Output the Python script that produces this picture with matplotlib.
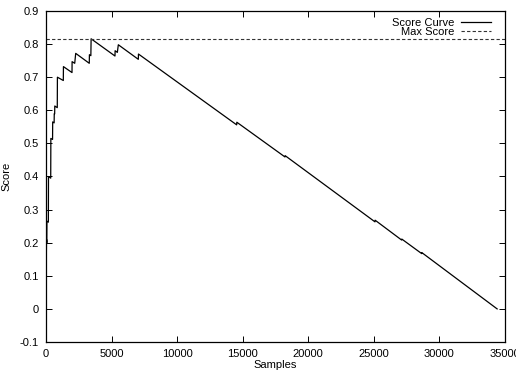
import matplotlib
matplotlib.use("Agg")
import matplotlib.pyplot as plt
from matplotlib.ticker import FixedLocator, FixedFormatter

plt.rcParams['font.family'] = ['Liberation Sans', 'DejaVu Sans']

# Vertices of the score curve (samples, score)
samples = [0, 40, 60, 70, 180, 190, 360, 370, 500, 510, 620, 630, 660, 670,
           860, 870, 1320, 1330, 1983, 1990, 2190, 2265, 3300, 3310, 3420, 3440,
           5260, 5270, 5440, 5515, 7040, 7050, 14540, 14550, 18224, 18234,
           25086, 25096, 27120, 27130, 28650, 28660, 34400]
scores = [0.08, 0.21, 0.20, 0.265, 0.262, 0.40, 0.395, 0.515, 0.512, 0.565, 0.562, 0.59, 0.589, 0.613,
          0.608, 0.70, 0.690, 0.732, 0.714, 0.747, 0.742, 0.772, 0.742, 0.768, 0.765, 0.816,
          0.764, 0.780, 0.775, 0.798, 0.754, 0.770, 0.556, 0.564, 0.459, 0.463,
          0.263, 0.268, 0.208, 0.211, 0.167, 0.170, 0.0]

x_ticks = [0, 5000, 10000, 15000, 20000, 25000, 30000, 35000]
x_tick_labels = ["0", "5000", "10000", "15000", "20000", "25000", "30000", "35000"]
y_ticks = [-0.1, 0, 0.1, 0.2, 0.3, 0.4, 0.5, 0.6, 0.7, 0.8, 0.9]
y_tick_labels = ["-0.1", "0", "0.1", "0.2", "0.3", "0.4", "0.5", "0.6", "0.7", "0.8", "0.9"]

max_score = max(scores)

fig = plt.figure(figsize=(5.16, 3.75), dpi=100)
ax = fig.add_axes([46/516, 1-342/375, (505-46)/516, (342-11)/375])

ax.plot(samples, scores, color='black', lw=0.9, label='Score Curve')
ax.axhline(max_score, color='#333333', lw=0.8, linestyle=(0, (3, 2)), label='Max Score')

ax.set_xlim(0, 35000)
ax.set_ylim(-0.1, 0.9)
ax.xaxis.set_major_locator(FixedLocator(x_ticks))
ax.xaxis.set_major_formatter(FixedFormatter(x_tick_labels))
ax.yaxis.set_major_locator(FixedLocator(y_ticks))
ax.yaxis.set_major_formatter(FixedFormatter(y_tick_labels))

ax.tick_params(direction='in', length=4.5, width=0.7, top=True, right=True,
               labelsize=8, colors='black', pad=5)
for s in ax.spines.values():
    s.set_linewidth(0.9)
    s.set_color('black')

ax.set_xlabel('Samples', fontsize=8, labelpad=1)
ax.set_ylabel('Score', fontsize=8, labelpad=6)

leg = ax.legend(loc='upper right', frameon=False, markerfirst=False, fontsize=8,
                handlelength=2.7, handletextpad=0.6, labelspacing=-0.1,
                borderaxespad=0.2, bbox_to_anchor=(0.985, 1.0))

fig.savefig('out.png', dpi=100)
